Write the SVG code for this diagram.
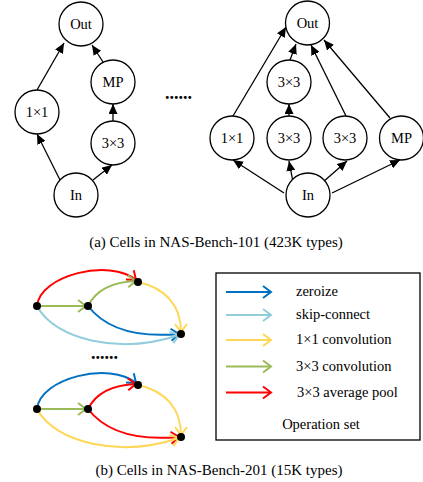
<svg xmlns="http://www.w3.org/2000/svg" width="423" height="482" viewBox="0 0 423 482">
<style>
.nd{fill:#fff;stroke:#000;stroke-width:1.3}
.lbl{font-family:"Liberation Serif","Times New Roman",serif;font-size:14.5px;fill:#000;text-anchor:middle}
.cap{font-family:"Liberation Serif","Times New Roman",serif;font-size:15px;fill:#000;text-anchor:middle}
.leg{font-family:"Liberation Serif","Times New Roman",serif;font-size:14.5px;fill:#000}
.dots{font-family:"Liberation Serif","Times New Roman",serif;font-size:18px;font-weight:bold;fill:#000}
.e{stroke:#000;stroke-width:1.3;fill:none;marker-end:url(#ah)}
.c{fill:none;stroke-width:2}
.red{stroke:#FF0000;marker-end:url(#chR)}
.grn{stroke:#9BBB59;marker-end:url(#chG)}
.yel{stroke:#FFD757;marker-end:url(#chY)}
.lbl2{stroke:#92CDDC;marker-end:url(#chL)}
.blu{stroke:#0070C0;marker-end:url(#chB)}
.pt{fill:#000}
</style>
<defs>
<marker id="ah" markerUnits="userSpaceOnUse" markerWidth="11" markerHeight="9" refX="10" refY="4.5" orient="auto"><path d="M0,0 L10,4.5 L0,9 z" fill="#000"/></marker>
<marker id="chR" markerUnits="userSpaceOnUse" markerWidth="12" markerHeight="14" refX="9" refY="6.5" orient="auto" overflow="visible"><path d="M1,0.5 L9,6.5 L1,12.5" fill="none" stroke="#FF0000" stroke-width="2"/></marker>
<marker id="chG" markerUnits="userSpaceOnUse" markerWidth="12" markerHeight="14" refX="9" refY="6.5" orient="auto" overflow="visible"><path d="M1,0.5 L9,6.5 L1,12.5" fill="none" stroke="#9BBB59" stroke-width="2"/></marker>
<marker id="chY" markerUnits="userSpaceOnUse" markerWidth="12" markerHeight="14" refX="9" refY="6.5" orient="auto" overflow="visible"><path d="M1,0.5 L9,6.5 L1,12.5" fill="none" stroke="#FFD757" stroke-width="2"/></marker>
<marker id="chL" markerUnits="userSpaceOnUse" markerWidth="12" markerHeight="14" refX="9" refY="6.5" orient="auto" overflow="visible"><path d="M1,0.5 L9,6.5 L1,12.5" fill="none" stroke="#92CDDC" stroke-width="2"/></marker>
<marker id="chB" markerUnits="userSpaceOnUse" markerWidth="12" markerHeight="14" refX="9" refY="6.5" orient="auto" overflow="visible"><path d="M1,0.5 L9,6.5 L1,12.5" fill="none" stroke="#0070C0" stroke-width="2"/></marker>
</defs>
<rect width="423" height="482" fill="#fff"/>

<!-- connectors: NAS-Bench-101 cells -->
<g id="connectors-101">
<line class="e" x1="60" y1="180" x2="37" y2="134"/>
<line class="e" x1="93" y1="180" x2="112" y2="165"/>
<line class="e" x1="113" y1="121" x2="113" y2="104"/>
<line class="e" x1="103" y1="62" x2="92" y2="45"/>
<line class="e" x1="37" y1="90" x2="64" y2="43"/>

<line class="e" x1="284" y1="193" x2="233" y2="160"/>
<line class="e" x1="293" y1="182" x2="289" y2="161"/>
<line class="e" x1="323" y1="182" x2="347" y2="161"/>
<line class="e" x1="332" y1="193" x2="400" y2="160"/>
<line class="e" x1="233" y1="116" x2="286" y2="27"/>
<line class="e" x1="289" y1="116" x2="289" y2="104"/>
<line class="e" x1="290" y1="60" x2="296" y2="44"/>
<line class="e" x1="346" y1="116" x2="311" y2="45"/>
<line class="e" x1="390" y1="118" x2="324" y2="40"/>
</g>

<g id="node-a-out"><circle class="nd" cx="81" cy="24" r="22"/><text class="lbl" x="81" y="29">Out</text></g>
<g id="node-a-mp"><circle class="nd" cx="113" cy="82" r="22"/><text class="lbl" x="113" y="87">MP</text></g>
<g id="node-a-1x1"><circle class="nd" cx="37" cy="112" r="22"/><text class="lbl" x="37" y="117">1×1</text></g>
<g id="node-a-3x3"><circle class="nd" cx="113" cy="143" r="22"/><text class="lbl" x="113" y="148">3×3</text></g>
<g id="node-a-in"><circle class="nd" cx="76" cy="195" r="22"/><text class="lbl" x="76" y="200">In</text></g>

<text class="dots" x="165" y="99">......</text>

<g id="node-b-out"><circle class="nd" cx="307.5" cy="23" r="22"/><text class="lbl" x="307.5" y="28">Out</text></g>
<g id="node-b-3x3top"><circle class="nd" cx="289" cy="82" r="22"/><text class="lbl" x="289" y="87">3×3</text></g>
<g id="node-b-1x1"><circle class="nd" cx="232" cy="138" r="22"/><text class="lbl" x="232" y="143">1×1</text></g>
<g id="node-b-3x3a"><circle class="nd" cx="289" cy="138" r="22"/><text class="lbl" x="289" y="143">3×3</text></g>
<g id="node-b-3x3b"><circle class="nd" cx="345" cy="138" r="22"/><text class="lbl" x="345" y="143">3×3</text></g>
<g id="node-b-mp"><circle class="nd" cx="401.5" cy="138" r="22"/><text class="lbl" x="401.5" y="143">MP</text></g>
<g id="node-b-in"><circle class="nd" cx="308" cy="195" r="22"/><text class="lbl" x="308" y="200">In</text></g>

<text class="cap" x="216" y="247">(a) Cells in NAS-Bench-101 (423K types)</text>

<!-- connectors: NAS-Bench-201 cells -->
<g id="connectors-201">
<g id="cell1-edges">
<path class="c red" d="M37,306 C40,275 110,258 136,280"/>
<path class="c grn" d="M37,306 L86,306"/>
<path class="c grn" d="M88,306 C95,292 110,282 136,281"/>
<path class="c yel" d="M138,282 C165,288 181,305 181,332"/>
<path class="c blu" d="M88,306 C105,328 135,338 179,334"/>
<path class="c lbl2" d="M37,306 C55,340 120,355 179,335"/>
</g>
<g id="cell2-edges" transform="translate(0,103)">
<path class="c blu" d="M37,306 C40,275 110,258 136,280"/>
<path class="c grn" d="M37,306 L86,306"/>
<path class="c red" d="M88,306 C95,292 110,282 136,281"/>
<path class="c yel" d="M138,282 C165,288 181,305 181,332"/>
<path class="c red" d="M88,306 C105,328 135,338 179,334"/>
<path class="c yel" d="M37,306 C55,340 120,355 179,335"/>
</g>
</g>

<g id="cell1-nodes">
<circle class="pt" cx="37" cy="306" r="4"/>
<circle class="pt" cx="88" cy="306" r="4"/>
<circle class="pt" cx="138" cy="282" r="4"/>
<circle class="pt" cx="181" cy="334" r="4"/>
</g>
<text class="dots" x="91" y="359">......</text>
<g id="cell2-nodes">
<circle class="pt" cx="37" cy="409" r="4"/>
<circle class="pt" cx="88" cy="409" r="4"/>
<circle class="pt" cx="138" cy="385" r="4"/>
<circle class="pt" cx="181" cy="437" r="4"/>
</g>

<g id="legend">
<rect x="216" y="273" width="204" height="167" fill="none" stroke="#000" stroke-width="1.3"/>
<path class="c blu" d="M226,292 L271,292"/>
<path class="c lbl2" d="M226,315 L271,315"/>
<path class="c yel" d="M226,340 L271,340"/>
<path class="c grn" d="M226,366.5 L271,366.5"/>
<path class="c red" d="M226,392.5 L271,392.5"/>
<text class="leg" x="296" y="296">zeroize</text>
<text class="leg" x="296" y="319">skip-connect</text>
<text class="leg" x="296" y="344">1×1 convolution</text>
<text class="leg" x="296" y="370.5">3×3 convolution</text>
<text class="leg" x="297" y="396.5">3×3 average pool</text>
<text class="leg" x="321" y="429" text-anchor="middle">Operation set</text>
</g>

<text class="cap" x="219" y="475">(b) Cells in NAS-Bench-201 (15K types)</text>
</svg>
